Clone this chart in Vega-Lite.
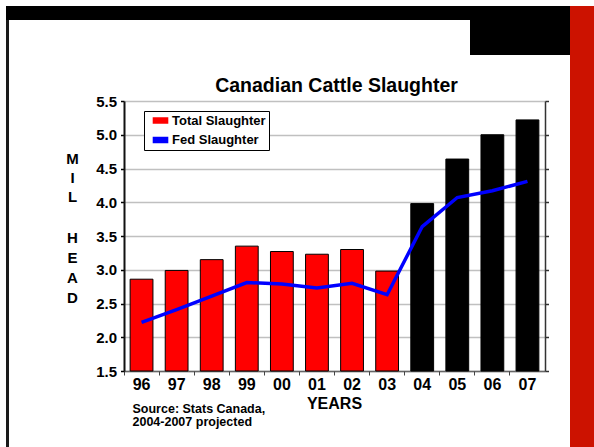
{
  "$schema": "https://vega.github.io/schema/vega-lite/v6.json",
  "padding": {"left": 6, "top": 6, "right": 0, "bottom": 0},
  "background": "white",
  "spacing": 0,
  "config": {"font": "Liberation Sans", "view": {"stroke": null}},
  "vconcat": [
    {
      "spacing": 0,
      "hconcat": [
        {"width": 564, "height": 14, "data": {"values": []}, "mark": "rect", "encoding": {}, "view": {"fill": "#000000", "stroke": null}},
        {"width": 24, "height": 14, "data": {"values": []}, "mark": "rect", "encoding": {}, "view": {"fill": "#cc1200", "stroke": null}}
      ]
    },
    {
      "spacing": 0,
      "hconcat": [
        {"width": 3, "height": 427, "data": {"values": []}, "mark": "rect", "encoding": {}, "view": {"fill": "#1a1a1a", "stroke": null}},
        {
          "spacing": 0,
          "vconcat": [
            {
              "spacing": 0,
              "hconcat": [
                {"width": 461, "height": 35, "data": {"values": []}, "mark": "rect", "encoding": {}, "view": {"fill": "#ffffff", "stroke": null}},
                {"width": 100, "height": 35, "data": {"values": []}, "mark": "rect", "encoding": {}, "view": {"fill": "#000000", "stroke": null}}
              ]
            },
            {
              "width": 561,
              "height": 392,
              "view": {"fill": "white", "stroke": null},
              "title": {"text": "Canadian Cattle Slaughter", "fontSize": 19.5, "fontWeight": "bold", "font": "Liberation Sans", "color": "black", "anchor": "middle", "frame": "group", "dx": 47, "offset": -56, "baseline": "alphabetic"},
              "data": {"values": [
                {"year": "96", "total": 2.86, "fed": 2.22, "proj": false},
                {"year": "97", "total": 2.99, "fed": 2.41, "proj": false},
                {"year": "98", "total": 3.15, "fed": 2.61, "proj": false},
                {"year": "99", "total": 3.35, "fed": 2.81, "proj": false},
                {"year": "00", "total": 3.27, "fed": 2.79, "proj": false},
                {"year": "01", "total": 3.23, "fed": 2.73, "proj": false},
                {"year": "02", "total": 3.30, "fed": 2.80, "proj": false},
                {"year": "03", "total": 2.98, "fed": 2.63, "proj": false},
                {"year": "04", "total": 3.98, "fed": 3.64, "proj": true},
                {"year": "05", "total": 4.64, "fed": 4.07, "proj": true},
                {"year": "06", "total": 5.00, "fed": 4.17, "proj": true},
                {"year": "07", "total": 5.22, "fed": 4.31, "proj": true}
              ]},
              "layer": [
                {
                  "mark": {"type": "bar", "stroke": "black", "strokeWidth": 1},
                  "encoding": {
                    "x": {
                      "field": "year", "type": "ordinal",
                      "scale": {"domain": ["96","97","98","99","00","01","02","03","04","05","06","07"], "range": [115, 536], "paddingInner": 0.35, "paddingOuter": 0.175},
                      "axis": {"orient": "bottom", "offset": -76, "labelAngle": 0, "labelFontSize": 16, "labelFontWeight": "bold", "labelColor": "black", "labelPadding": 5, "ticks": false, "grid": false, "domainColor": "#666666", "domainWidth": 1.5,
                        "title": "YEARS", "titleFontSize": 16, "titleFontWeight": "bold", "titleColor": "black", "titleX": 325, "titleY": 24, "titleAlign": "center", "titleBaseline": "top"}
                    },
                    "y": {
                      "field": "total", "type": "quantitative",
                      "scale": {"domain": [1.5, 5.5], "range": [316, 46], "zero": false, "nice": false},
                      "axis": {"orient": "left", "offset": -115, "values": [1.5, 2, 2.5, 3, 3.5, 4, 4.5, 5, 5.5], "format": ".1f", "labelFontSize": 15, "labelFontWeight": "bold", "labelColor": "black", "labelPadding": 4, "tickSize": 3.5, "tickColor": "black", "tickWidth": 1.5, "domainColor": "#111111", "domainWidth": 2, "grid": true, "gridColor": "#c0c0c0", "gridWidth": 1.5,
                        "title": ["M", "I", "L"], "titleAngle": 0, "titleX": -52, "titleY": 96, "titleAlign": "center", "titleBaseline": "top", "titleFontSize": 15, "titleFontWeight": "bold", "titleColor": "black", "titleLineHeight": 19}
                    },
                    "y2": {"datum": 1.5},
                    "color": {
                      "condition": {"test": "datum.proj", "value": "black"},
                      "datum": "Total Slaughter", "type": "nominal",
                      "scale": {"domain": ["Total Slaughter", "Fed Slaughter"], "range": ["#ff0000", "#0000ff"]},
                      "legend": {
                        "orient": "none", "legendX": 138, "legendY": 105, "title": null,
                        "padding": 3, "strokeColor": "black", "fillColor": "white",
                        "labelFontSize": 13, "labelFontWeight": "bold", "labelColor": "black",
                        "symbolType": "M-1.2,-0.5H1.2V0.5H-1.2Z",
                        "symbolSize": 169, "symbolOffset": 7, "labelOffset": 5, "rowPadding": 5.5, "symbolStrokeWidth": 0, "symbolOpacity": 1,
                        "labelExpr": "datum.label + '\u00a0\u00a0\u00a0\u00a0\u00a0'",
                        "encode": {
                          "symbols": {
                            "shape": {"condition": {"test": "datum.value === 'Fed Slaughter'", "value": "M-1.38,-0.14H1.38V0.14H-1.38Z"}, "value": "M-1.2,-0.5H1.2V0.5H-1.2Z"}
                          }
                        }
                      }
                    }
                  }
                },
                {
                  "mark": {"type": "line", "color": "#0000ff", "strokeWidth": 3.5},
                  "encoding": {
                    "x": {
                      "field": "year", "type": "ordinal",
                      "axis": {"orient": "bottom", "offset": -76, "labels": false, "domain": false, "grid": false, "ticks": true, "tickSize": 4, "tickColor": "#444444", "tickWidth": 1, "bandPosition": -0.269,
                        "title": ["Source: Stats Canada,", "2004-2007 projected"], "titleFontSize": 12.5, "titleFontWeight": "bold", "titleColor": "black", "titleX": 123, "titleY": 31, "titleAlign": "left", "titleBaseline": "top", "titleLineHeight": 13}
                    },
                    "y": {
                      "field": "fed", "type": "quantitative",
                      "axis": {"orient": "right", "offset": -25, "values": [1.5, 2, 2.5, 3, 3.5, 4, 4.5, 5, 5.5], "labels": false, "grid": false, "ticks": true, "tickSize": 3.5, "tickColor": "#333333", "tickWidth": 1.5, "domainColor": "#333333", "domainWidth": 1.5,
                        "title": ["H", "E", "A", "D"], "titleAngle": 0, "titleX": -473, "titleY": 175, "titleAlign": "center", "titleBaseline": "top", "titleFontSize": 15, "titleFontWeight": "bold", "titleColor": "black", "titleLineHeight": 20}
                    }
                  }
                }
              ],
              "resolve": {"axis": {"x": "independent", "y": "independent"}}
            }
          ]
        },
        {"width": 24, "height": 427, "data": {"values": []}, "mark": "rect", "encoding": {}, "view": {"fill": "#cc1200", "stroke": null}}
      ]
    }
  ]
}
